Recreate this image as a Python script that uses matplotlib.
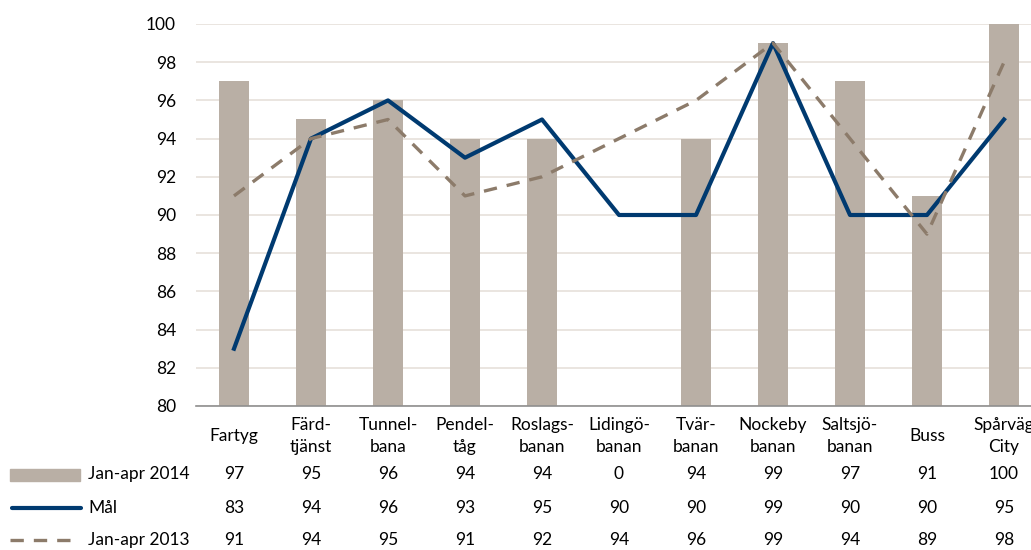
import numpy as np
import matplotlib
matplotlib.use("Agg")
import matplotlib.pyplot as plt
from matplotlib.transforms import blended_transform_factory
from matplotlib.lines import Line2D
from matplotlib.patches import Rectangle

plt.rcParams['font.family'] = ['Lato', 'DejaVu Sans']

categories = ["Fartyg", "Färd-\ntjänst", "Tunnel-\nbana", "Pendel-\ntåg", "Roslags-\nbanan",
              "Lidingö-\nbanan", "Tvär-\nbanan", "Nockeby\nbanan", "Saltsjö-\nbanan", "Buss",
              "Spårväg\nCity"]
jan_apr_2014 = [97, 95, 96, 94, 94, 0, 94, 99, 97, 91, 100]
mal = [83, 94, 96, 93, 95, 90, 90, 99, 90, 90, 95]
jan_apr_2013 = [91, 94, 95, 91, 92, 94, 96, 99, 94, 89, 98]

bar_color = "#B9AFA5"
mal_color = "#003A70"
dash_color = "#8C7B6A"
grid_color = "#E6E0DA"

W, H = 1031, 550
fig = plt.figure(figsize=(W / 100, H / 100), dpi=100)
left, right, top, bottom = 195.5, 1042.5, 24, 406
ax = fig.add_axes([left / W, 1 - bottom / H, (right - left) / W, (bottom - top) / H])

x = np.arange(len(categories))
ax.bar(x, jan_apr_2014, width=0.4, color=bar_color, zorder=2)
ax.plot(x, mal, color=mal_color, lw=3, zorder=3)
ax.plot(x, jan_apr_2013, color=dash_color, lw=2.4, dashes=(4, 3), zorder=4)

ax.set_xlim(-0.5, len(categories) - 0.5)
ax.set_ylim(80, 100)
ax.set_yticks(np.arange(80, 101, 2))
ax.yaxis.grid(True, color=grid_color, lw=1.2, zorder=0)
ax.set_axisbelow(True)
for s in ["top", "right", "left"]:
    ax.spines[s].set_visible(False)
ax.spines["bottom"].set_color("#8F8F8F")
ax.spines["bottom"].set_linewidth(1.2)
ax.tick_params(axis="y", length=0, labelsize=12.5, pad=14)
ax.tick_params(axis="x", length=0, labelbottom=False)

# data table below the plot
tr = blended_transform_factory(ax.transData, fig.transFigure)
def fy(py):
    return 1 - py / H

for i, c in enumerate(categories):
    ax.text(i, fy(436), c, transform=tr, ha="center", va="center", fontsize=12.5,
            linespacing=1.4, clip_on=False)

rows = [(jan_apr_2014, 474), (mal, 508), (jan_apr_2013, 540)]
for vals, py in rows:
    for i, v in enumerate(vals):
        ax.text(i, fy(py), str(v), transform=tr, ha="center", va="center", fontsize=12.5,
                clip_on=False)

# legend keys
fig.patches.append(Rectangle((10 / W, fy(481)), 70 / W, 12 / H, transform=fig.transFigure,
                             color=bar_color))
fig.lines.append(Line2D([12 / W, 81 / W], [fy(508), fy(508)], transform=fig.transFigure,
                        color=mal_color, lw=3, solid_capstyle="round"))
fig.lines.append(Line2D([10 / W, 72 / W], [fy(540), fy(540)], transform=fig.transFigure,
                        color=dash_color, lw=2.4, dashes=(4, 3)))
for label, py in [("Jan-apr 2014", 474), ("Mål", 508), ("Jan-apr 2013", 540)]:
    fig.text(88 / W, fy(py), label, ha="left", va="center", fontsize=12.5)

fig.savefig("out.png", dpi=100)
